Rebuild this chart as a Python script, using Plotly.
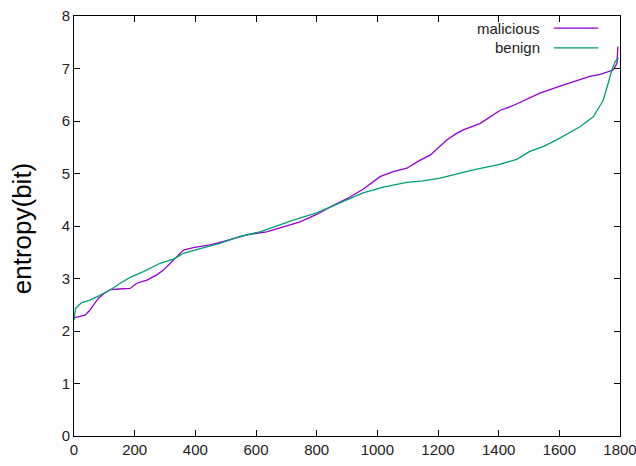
import plotly.graph_objects as go

mal_x = [0, 20, 36, 50, 64, 80, 100, 120, 150, 185, 207, 240, 273, 295, 317, 339, 361, 393, 448, 503, 569, 635, 700, 745, 800, 844, 900, 953, 1009, 1050, 1097, 1140, 1174, 1200, 1229, 1260, 1283, 1338, 1404, 1450, 1503, 1536, 1600, 1646, 1700, 1734, 1778, 1790, 1793]
mal_y = [2.25, 2.27, 2.30, 2.38, 2.50, 2.62, 2.72, 2.79, 2.80, 2.81, 2.91, 2.97, 3.07, 3.16, 3.29, 3.42, 3.54, 3.59, 3.64, 3.72, 3.83, 3.89, 4.00, 4.08, 4.22, 4.36, 4.52, 4.70, 4.94, 5.03, 5.10, 5.25, 5.35, 5.48, 5.64, 5.76, 5.83, 5.95, 6.20, 6.30, 6.45, 6.53, 6.66, 6.75, 6.85, 6.89, 6.97, 7.10, 7.42]

ben_x = [0, 5, 25, 53, 75, 119, 152, 185, 229, 262, 284, 328, 361, 416, 481, 547, 613, 723, 800, 844, 900, 953, 1020, 1097, 1150, 1207, 1260, 1316, 1400, 1459, 1503, 1550, 1591, 1620, 1668, 1712, 1745, 1761, 1773, 1784, 1795]
ben_y = [2.21, 2.43, 2.54, 2.59, 2.65, 2.78, 2.91, 3.02, 3.13, 3.22, 3.29, 3.37, 3.48, 3.57, 3.67, 3.80, 3.89, 4.11, 4.25, 4.36, 4.50, 4.63, 4.74, 4.83, 4.86, 4.91, 4.99, 5.07, 5.17, 5.27, 5.42, 5.52, 5.64, 5.73, 5.89, 6.08, 6.40, 6.72, 6.97, 7.13, 7.20]

x_ticks = [0, 200, 400, 600, 800, 1000, 1200, 1400, 1600, 1800]
y_ticks = [0, 1, 2, 3, 4, 5, 6, 7, 8]

MAL_C = "#9400D3"
BEN_C = "#009E73"
FONT = "Liberation Sans, Arial, sans-serif"

fig = go.Figure()
fig.add_trace(go.Scatter(x=mal_x, y=mal_y, mode="lines", name="malicious",
                         line=dict(color=MAL_C, width=1.3), showlegend=False))
fig.add_trace(go.Scatter(x=ben_x, y=ben_y, mode="lines", name="benign",
                         line=dict(color=BEN_C, width=1.3), showlegend=False))

axis_common = dict(showline=True, linecolor="black", linewidth=1, mirror="allticks",
                   ticks="inside", ticklen=6, tickcolor="black", showgrid=False,
                   zeroline=False, automargin=False, ticklabeloverflow="allow",
                   tickfont=dict(family=FONT, size=15, color="#222"))

fig.update_xaxes(range=[0, 1800], tickvals=x_ticks, **axis_common)
fig.update_yaxes(range=[0, 8], tickvals=y_ticks, **axis_common)

# y-axis title
fig.add_annotation(x=-0.095, y=0.495, xref="paper", yref="paper", text="entropy(bit)",
                   textangle=-90, showarrow=False, xanchor="center", yanchor="middle",
                   font=dict(family=FONT, size=26, color="black"))

# manual gnuplot-style legend (text right, sample line after)
for name, col, yp in [("malicious", MAL_C, 0.971), ("benign", BEN_C, 0.924)]:
    fig.add_annotation(x=0.857, y=yp, xref="paper", yref="paper", text=name, showarrow=False,
                       xanchor="right", yanchor="middle", font=dict(family=FONT, size=15, color="#222"))
    fig.add_shape(type="line", xref="paper", yref="paper", x0=0.879, x1=0.960, y0=yp, y1=yp,
                  line=dict(color=col, width=1.3))

fig.update_layout(width=636, height=466, margin=dict(l=74, r=16, t=16, b=30),
                  plot_bgcolor="white", paper_bgcolor="white", font=dict(family=FONT))

fig.write_html("out.html")
